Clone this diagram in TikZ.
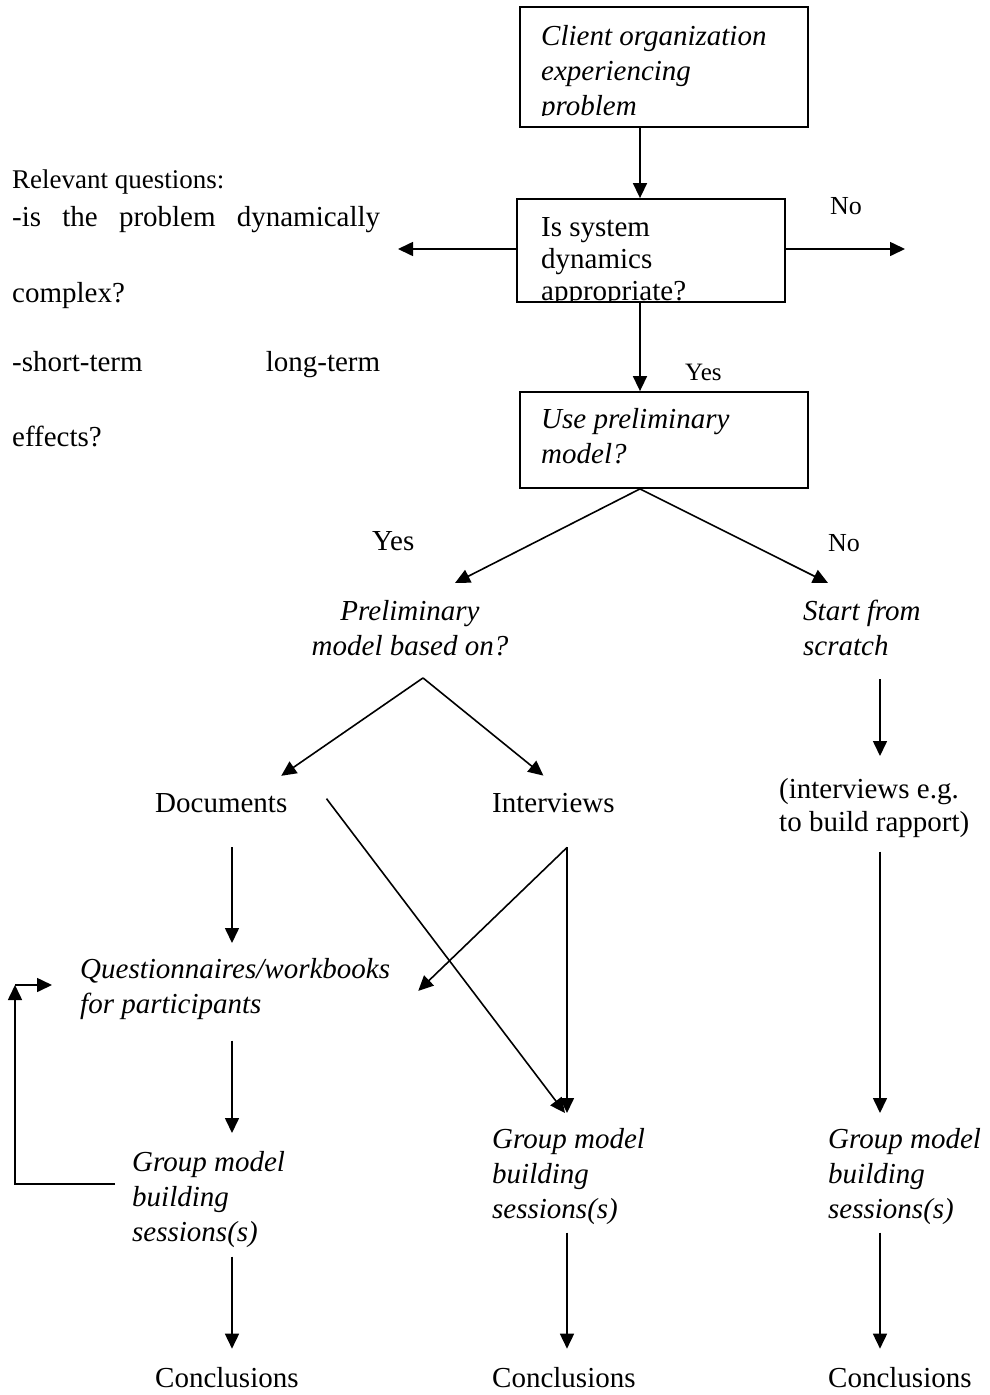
\documentclass[tikz,border=0pt]{standalone}
\usepackage{fontspec}
\setmainfont{Liberation Serif}
\usetikzlibrary{arrows.meta,calc}
\begin{document}
\begin{tikzpicture}[x=1pt,y=-1pt,
  boxst/.style={draw, line width=1.8pt, inner sep=0pt},
  txt/.style={inner sep=0pt, align=left, font=\fontsize{29}{35}\selectfont},
  itx/.style={inner sep=0pt, align=left, font=\fontsize{29}{35}\selectfont\itshape},
  lbl/.style={inner sep=0pt, font=\fontsize{26}{30}\selectfont},
  arr/.style={line width=1.6pt, -{Triangle[length=15pt,width=14pt]}},
]
\useasboundingbox (0,0) rectangle (989,1395);

% column coordinates
\coordinate (colA) at (232,0);
\coordinate (colB) at (567,0);
\coordinate (colC) at (880,0);
\coordinate (colM) at (640,0);

% boxes
\node[boxst, minimum width=288pt, minimum height=120pt] (b1) at (664,67) {};
\node[boxst, minimum width=268pt, minimum height=103pt] (b2) at (651,250.5) {};
\node[boxst, minimum width=288pt, minimum height=96pt] (b3) at (664,440) {};

\begin{scope}
  \clip (b1.north west) rectangle ([yshift=12pt]b1.south east);
  \node[itx, anchor=north west] (t1) at (541,25) {Client organization\\experiencing\\problem};
\end{scope}
\begin{scope}
  \clip (b2.north west) rectangle (b2.south east);
  \node[txt, anchor=north west, font=\fontsize{29}{32}\selectfont] (t2) at (541,217) {Is system\\dynamics\\appropriate?};
\end{scope}
\node[itx, anchor=north west] (t3) at (541,408) {Use preliminary\\model?};

% left questions
\node[txt, anchor=base west, font=\fontsize{27}{32}\selectfont] (rq) at (12,188) {Relevant questions:};
\node[txt, anchor=base west] (q1) at (12,226) {\makebox[368pt][s]{-is the problem dynamically}};
\node[txt, anchor=base west] (q2) at (12,302) {complex?};
\node[txt, anchor=base west] (q3) at (12,371) {\makebox[368pt][l]{-short-term\hfill long-term}};
\node[txt, anchor=base west] (q4) at (12,446) {effects?};

% labels
\node[lbl, anchor=base west] (no1) at (830,214) {No};
\node[lbl, anchor=base west, font=\fontsize{25}{28}\selectfont] (yes1) at (685,380) {Yes};
\node[txt, anchor=base west] (yes2) at (372,550) {Yes};
\node[lbl, anchor=base west] (no2) at (828,551) {No};

% other nodes
\node[itx, anchor=north, align=center] (prelim) at (410,600) {Preliminary\\model based on?};
\node[itx, anchor=north west] (start) at (803,600) {Start from\\scratch};
\node[txt, anchor=base west] (docs) at (155,812) {Documents};
\node[txt, anchor=base west] (intv) at (492,812) {Interviews};
\node[txt, anchor=north west, font=\fontsize{29}{33}\selectfont] (rap) at (779,778) {(interviews e.g.\\to build rapport)};
\node[itx, anchor=north west] (quest) at (80,958) {Questionnaires/workbooks\\for participants};
\node[itx, anchor=north west] (gm1) at (132,1151) {Group model\\building\\sessions(s)};
\node[itx, anchor=north west] (gm2) at (492,1128) {Group model\\building\\sessions(s)};
\node[itx, anchor=north west] (gm3) at (828,1128) {Group model\\building\\sessions(s)};
\node[txt, anchor=base west] (c1) at (155,1387) {Conclusions};
\node[txt, anchor=base west] (c2) at (492,1387) {Conclusions};
\node[txt, anchor=base west] (c3) at (828,1387) {Conclusions};

% free ends / junctions
\coordinate (lend) at (398,249);
\coordinate (rend) at (905,249);
\coordinate (apex) at ($(prelim.south)+(13,22)$);
\coordinate (loopc) at (15,985);

% connectors
\draw[arr] (b1.south -| colM) -- (b2.north -| colM);
\draw[arr] (b2.west |- lend) -- (lend);
\draw[arr] (b2.east |- rend) -- (rend);
\draw[arr] (b2.south -| colM) -- (b3.north -| colM);
\draw[arr] (b3.south -| colM) -- ($(prelim.north)+(45,-17)$);
\draw[arr] (b3.south -| colM) -- ($(start.north west)+(25,-17)$);
\draw[arr] (apex) -- ($(docs.north)+(60,-17)$);
\draw[arr] (apex) -- ($(intv.north)+(-10,-17)$);
\draw[arr, shorten <=23pt, shorten >=22pt] (start.south -| colC) -- (rap.north -| colC);
\draw[arr, shorten <=35pt, shorten >=15pt] (docs.south -| colA) -- (quest.north -| colA);
\draw[arr] ($(docs.east)+(39,-4)$) -- ($(gm2.north -| colB)+(-2,-15)$);
\draw[arr, shorten <=35pt, shorten >=15pt] (intv.south -| colB) -- (gm2.north -| colB);
\draw[arr] ($(intv.south -| colB)+(0,35)$) -- ($(quest.east)+(28,2)$);
\draw[arr, shorten <=14pt, shorten >=15pt] (rap.south -| colC) -- (gm3.north -| colC);
\draw[arr, shorten <=21pt, shorten >=18pt] (quest.south -| colA) -- (gm1.north -| colA);
\draw[arr] ($(gm1.west)+(-17,-15.5)$) -| (loopc);
\draw[arr, shorten >=28pt] (loopc) -- (loopc -| quest.west);
\draw[arr, shorten <=9pt, shorten >=18pt] (gm1.south -| colA) -- (c1.north -| colA);
\draw[arr, shorten <=8pt, shorten >=18pt] (gm2.south -| colB) -- (c2.north -| colB);
\draw[arr, shorten <=8pt, shorten >=18pt] (gm3.south -| colC) -- (c3.north -| colC);
\end{tikzpicture}
\end{document}
